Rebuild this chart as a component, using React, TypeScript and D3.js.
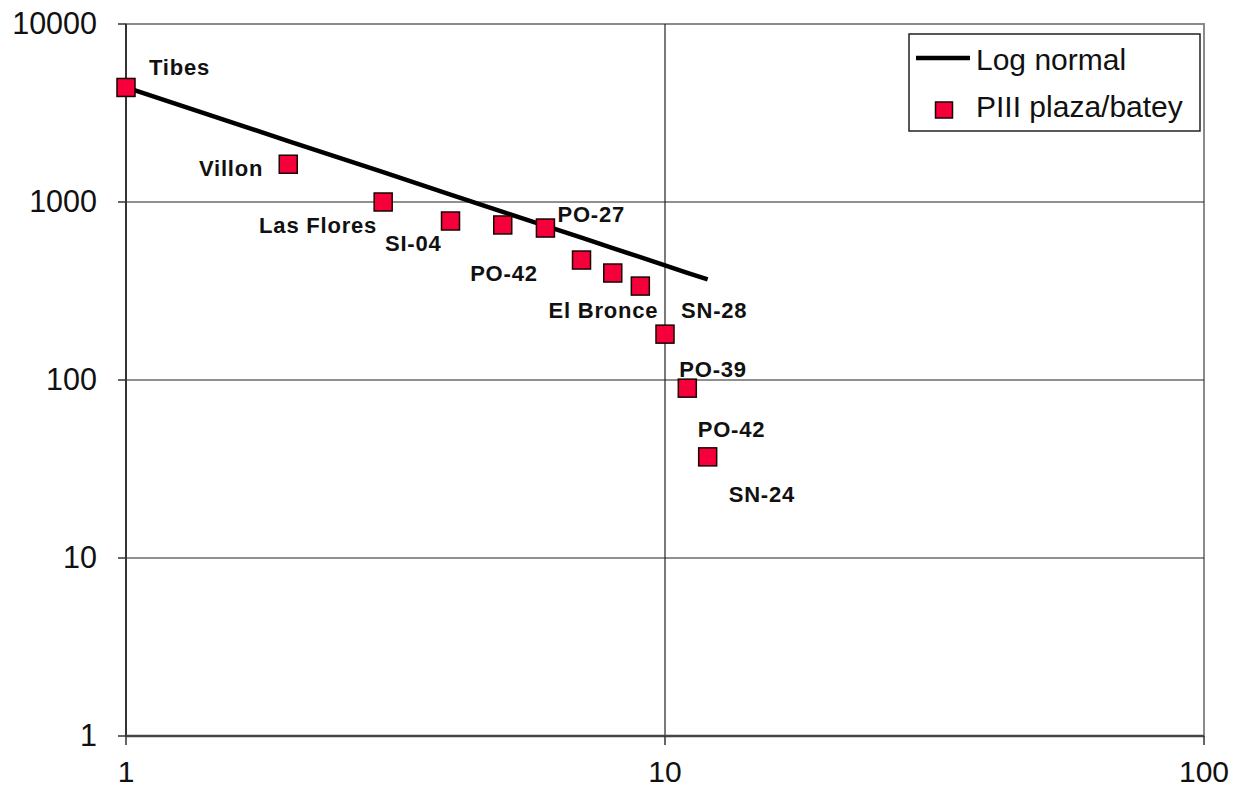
import React from "react";
import * as d3 from "d3";

// Rank of each PIII plaza/batey site and its value
const ranks = [1, 2, 3, 4, 5, 6, 7, 8, 9, 10, 11, 12];
const values = [4400, 1630, 1000, 782, 743, 714, 472, 399, 337, 181, 90, 37];

// Log normal reference line, ranks 1-12
const lineRanks = [1, 2, 3, 4, 5, 6, 7, 8, 9, 10, 11, 12];
const lineValues = [4400, 2200, 1470, 1100, 880, 735, 630, 550, 490, 440, 400, 368];

// Site names with the point each one is attached to
const labelNames = ["Tibes", "Villon", "Las Flores", "SI-04", "PO-42", "PO-27", "El Bronce", "SN-28", "PO-39", "PO-42", "SN-24"];
const labelPoint = [0, 1, 2, 3, 4, 5, 8, 9, 10, 11, 11];

const xTicks = [1, 10, 100];
const yTicks = [1, 10, 100, 1000, 10000];

// label placement (pixel offsets from the point, text anchor)
const labelDx = [23, -25, -6, -9, 35, 12, 18, 16, -8, -10, 21];
const labelDy = [-12, 12, 31, 30, 56, -6, 32, -16, -11, -20, 45];
const labelAnchor = ["start", "end", "end", "end", "end", "start", "end", "start", "start", "start", "start"];

const W = 1239;
const H = 788;
const M = { left: 126, right: 1204, top: 24, bottom: 736 };

export default function App() {
  const x = d3.scaleLog().domain([1, 100]).range([M.left, M.right]);
  const y = d3.scaleLog().domain([1, 10000]).range([M.bottom, M.top]);

  const line = d3
    .line<number>()
    .x((_, i) => x(lineRanks[i]))
    .y((d) => y(d));

  const font = "Arial, 'Liberation Sans', Helvetica, sans-serif";
  const markerSize = 18;

  return (
    <svg
      width={W}
      height={H}
      style={{ position: "absolute", left: 0, top: 0, background: "#fff" }}
      fontFamily={font}
    >
      <rect x={0} y={0} width={W} height={H} fill="#fff" />
      {/* plot area border */}
      <rect
        x={M.left}
        y={M.top}
        width={M.right - M.left}
        height={M.bottom - M.top}
        fill="#fff"
        stroke="#8a8a8a"
        strokeWidth={2}
      />
      {/* horizontal gridlines */}
      {yTicks
        .filter((t) => t > 1 && t < 10000)
        .map((t) => (
          <line key={"gy" + t} x1={M.left} x2={M.right} y1={y(t)} y2={y(t)} stroke="#222" strokeWidth={1.2} />
        ))}
      {/* vertical gridlines */}
      {xTicks
        .filter((t) => t > 1 && t < 100)
        .map((t) => (
          <line key={"gx" + t} x1={x(t)} x2={x(t)} y1={M.top} y2={M.bottom} stroke="#222" strokeWidth={1.2} />
        ))}
      {/* axes */}
      <line x1={M.left} x2={M.left} y1={M.top} y2={M.bottom} stroke="#333" strokeWidth={2} />
      <line x1={M.left} x2={M.right} y1={M.bottom} y2={M.bottom} stroke="#444" strokeWidth={2.5} />
      {yTicks.map((t) => (
        <g key={"yt" + t}>
          <line x1={M.left - 8} x2={M.left} y1={y(t)} y2={y(t)} stroke="#333" strokeWidth={1.5} />
          <text x={97} y={y(t) + 10} textAnchor="end" fontSize={30.5} fill="#111">
            {t}
          </text>
        </g>
      ))}
      {xTicks.map((t) => (
        <g key={"xt" + t}>
          <line x1={x(t)} x2={x(t)} y1={M.bottom} y2={M.bottom + 9} stroke="#333" strokeWidth={1.5} />
          <text x={x(t)} y={782} textAnchor="middle" fontSize={30} fill="#111">
            {t}
          </text>
        </g>
      ))}

      {/* log normal line */}
      <path d={line(lineValues) || ""} fill="none" stroke="#000" strokeWidth={4.5} />

      {/* site markers */}
      {values.map((v, i) => (
        <rect
          key={"p" + i}
          x={x(ranks[i]) - markerSize / 2}
          y={y(v) - markerSize / 2}
          width={markerSize}
          height={markerSize}
          fill="#f5003a"
          stroke="#1a0000"
          strokeWidth={1.5}
        />
      ))}

      {/* site labels */}
      {labelNames.map((name, i) => {
        const p = labelPoint[i];
        return (
          <text
            key={"l" + i}
            x={x(ranks[p]) + labelDx[i]}
            y={y(values[p]) + labelDy[i]}
            textAnchor={labelAnchor[i] as any}
            fontSize={22}
            fontWeight="bold"
            letterSpacing={0.8}
            fill="#111"
          >
            {name}
          </text>
        );
      })}

      {/* legend */}
      <rect x={909} y={34} width={291} height={97} fill="#fff" stroke="#222" strokeWidth={1.5} />
      <line x1={916} x2={970} y1={58} y2={58} stroke="#000" strokeWidth={4.5} />
      <text x={976} y={70} fontSize={30} fill="#111">
        Log normal
      </text>
      <rect x={935.5} y={102} width={17} height={16} fill="#f5003a" stroke="#1a0000" strokeWidth={1.5} />
      <text x={976} y={117} fontSize={30} fill="#111">
        PIII plaza/batey
      </text>
    </svg>
  );
}
